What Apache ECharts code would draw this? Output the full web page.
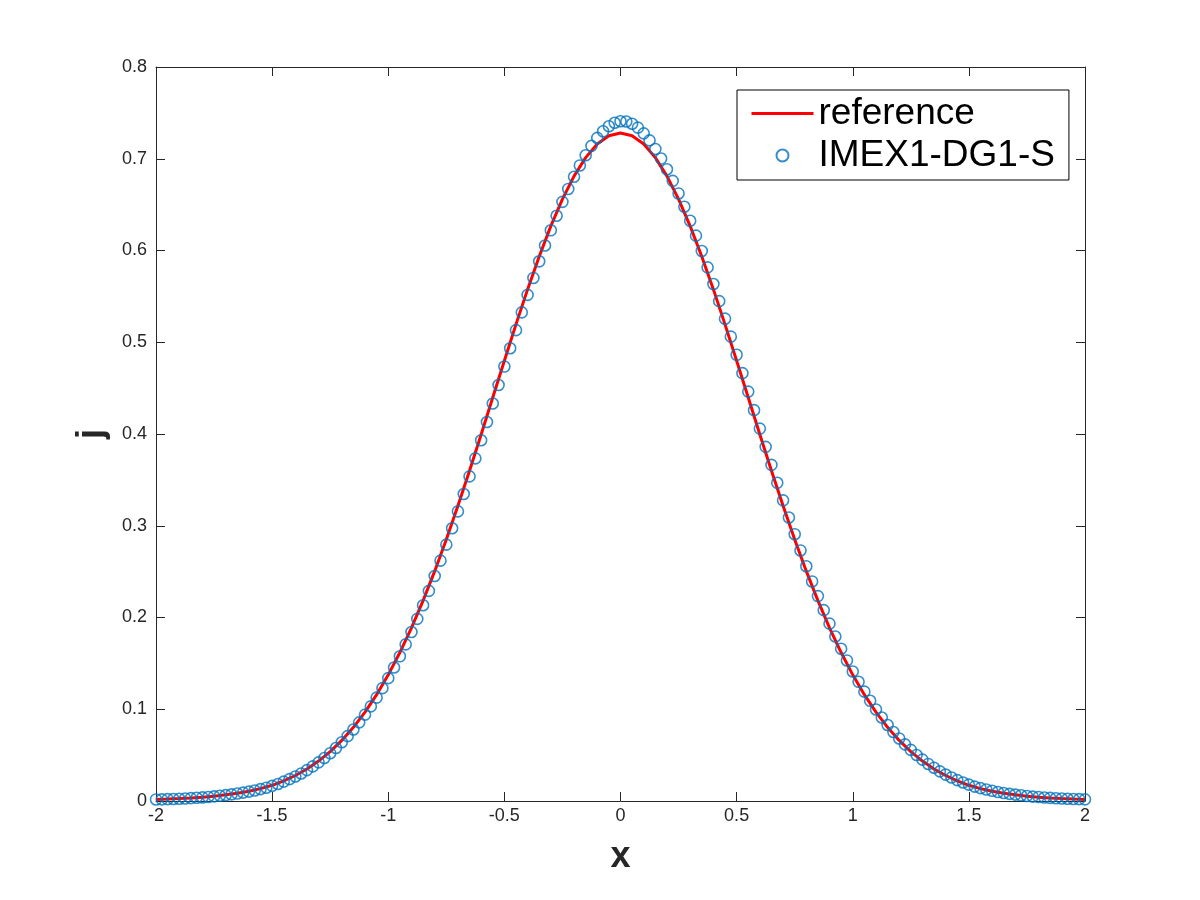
<!DOCTYPE html>
<html>
<head>
<meta charset="utf-8">
<title>j vs x</title>
<script src="https://cdn.jsdelivr.net/npm/echarts@6/dist/echarts.min.js"></script>
<style>
  html, body { margin: 0; padding: 0; background: #fff; }
  #chart { width: 1200px; height: 900px; }
</style>
</head>
<body>
<div id="chart"></div>
<script>
// reference solution, sampled every 0.05
const refX = [
  -2, -1.95, -1.9, -1.85, -1.8, -1.75, -1.7, -1.65, -1.6, -1.55,
  -1.5, -1.45, -1.4, -1.35, -1.3, -1.25, -1.2, -1.15, -1.1, -1.05,
  -1, -0.95, -0.9, -0.85, -0.8, -0.75, -0.7, -0.65, -0.6, -0.55,
  -0.5, -0.45, -0.4, -0.35, -0.3, -0.25, -0.2, -0.15, -0.1, -0.05,
  0, 0.05, 0.1, 0.15, 0.2, 0.25, 0.3, 0.35, 0.4, 0.45,
  0.5, 0.55, 0.6, 0.65, 0.7, 0.75, 0.8, 0.85, 0.9, 0.95,
  1, 1.05, 1.1, 1.15, 1.2, 1.25, 1.3, 1.35, 1.4, 1.45,
  1.5, 1.55, 1.6, 1.65, 1.7, 1.75, 1.8, 1.85, 1.9, 1.95, 2
];
const refY = [
  0.0017, 0.0021, 0.0026, 0.0032, 0.0041, 0.0052, 0.0067, 0.0084, 0.0106, 0.0135,
  0.0171, 0.0219, 0.0278, 0.0349, 0.0435, 0.0538, 0.0660, 0.0803, 0.0969, 0.1159,
  0.1375, 0.1618, 0.1887, 0.2184, 0.2505, 0.2851, 0.3217, 0.3600, 0.3995, 0.4397,
  0.4799, 0.5195, 0.5576, 0.5935, 0.6266, 0.6560, 0.6811, 0.7012, 0.7160, 0.7250,
  0.7280, 0.7250, 0.7160, 0.7012, 0.6811, 0.6560, 0.6266, 0.5935, 0.5576, 0.5195,
  0.4799, 0.4397, 0.3995, 0.3600, 0.3217, 0.2851, 0.2505, 0.2184, 0.1887, 0.1618,
  0.1375, 0.1159, 0.0969, 0.0803, 0.0660, 0.0538, 0.0435, 0.0349, 0.0278, 0.0219,
  0.0171, 0.0135, 0.0106, 0.0084, 0.0067, 0.0052, 0.0041, 0.0032, 0.0026, 0.0021, 0.0017
];

// IMEX1-DG1-S numerical solution, one point every 0.025
const numX = [
  -2, -1.975, -1.95, -1.925, -1.9, -1.875, -1.85, -1.825, -1.8, -1.775,
  -1.75, -1.725, -1.7, -1.675, -1.65, -1.625, -1.6, -1.575, -1.55, -1.525,
  -1.5, -1.475, -1.45, -1.425, -1.4, -1.375, -1.35, -1.325, -1.3, -1.275,
  -1.25, -1.225, -1.2, -1.175, -1.15, -1.125, -1.1, -1.075, -1.05, -1.025,
  -1, -0.975, -0.95, -0.925, -0.9, -0.875, -0.85, -0.825, -0.8, -0.775,
  -0.75, -0.725, -0.7, -0.675, -0.65, -0.625, -0.6, -0.575, -0.55, -0.525,
  -0.5, -0.475, -0.45, -0.425, -0.4, -0.375, -0.35, -0.325, -0.3, -0.275,
  -0.25, -0.225, -0.2, -0.175, -0.15, -0.125, -0.1, -0.075, -0.05, -0.025,
  0, 0.025, 0.05, 0.075, 0.1, 0.125, 0.15, 0.175, 0.2, 0.225,
  0.25, 0.275, 0.3, 0.325, 0.35, 0.375, 0.4, 0.425, 0.45, 0.475,
  0.5, 0.525, 0.55, 0.575, 0.6, 0.625, 0.65, 0.675, 0.7, 0.725,
  0.75, 0.775, 0.8, 0.825, 0.85, 0.875, 0.9, 0.925, 0.95, 0.975,
  1, 1.025, 1.05, 1.075, 1.1, 1.125, 1.15, 1.175, 1.2, 1.225,
  1.25, 1.275, 1.3, 1.325, 1.35, 1.375, 1.4, 1.425, 1.45, 1.475,
  1.5, 1.525, 1.55, 1.575, 1.6, 1.625, 1.65, 1.675, 1.7, 1.725,
  1.75, 1.775, 1.8, 1.825, 1.85, 1.875, 1.9, 1.925, 1.95, 1.975, 2
];
const numY = [
  0.0017, 0.0018, 0.0020, 0.0022, 0.0025, 0.0028, 0.0031, 0.0035, 0.0039, 0.0044,
  0.0050, 0.0057, 0.0064, 0.0072, 0.0081, 0.0091, 0.0102, 0.0115, 0.0129, 0.0145,
  0.0165, 0.0186, 0.0211, 0.0238, 0.0267, 0.0300, 0.0337, 0.0377, 0.0421, 0.0469,
  0.0521, 0.0578, 0.0640, 0.0707, 0.0779, 0.0857, 0.0941, 0.1031, 0.1127, 0.1230,
  0.1339, 0.1455, 0.1577, 0.1707, 0.1842, 0.1985, 0.2134, 0.2290, 0.2452, 0.2620,
  0.2794, 0.2973, 0.3157, 0.3346, 0.3538, 0.3734, 0.3932, 0.4131, 0.4332, 0.4534,
  0.4735, 0.4935, 0.5132, 0.5326, 0.5516, 0.5701, 0.5882, 0.6055, 0.6220, 0.6379,
  0.6530, 0.6671, 0.6804, 0.6927, 0.7038, 0.7140, 0.7227, 0.7299, 0.7354, 0.7392,
  0.7409, 0.7406, 0.7382, 0.7339, 0.7277, 0.7200, 0.7107, 0.7002, 0.6885, 0.6759,
  0.6622, 0.6477, 0.6324, 0.6162, 0.5994, 0.5816, 0.5635, 0.5448, 0.5257, 0.5061,
  0.4863, 0.4663, 0.4462, 0.4260, 0.4059, 0.3860, 0.3663, 0.3468, 0.3277, 0.3090,
  0.2908, 0.2731, 0.2559, 0.2393, 0.2233, 0.2080, 0.1933, 0.1793, 0.1659, 0.1532,
  0.1412, 0.1299, 0.1192, 0.1092, 0.0998, 0.0910, 0.0828, 0.0752, 0.0682, 0.0617,
  0.0557, 0.0501, 0.0451, 0.0404, 0.0362, 0.0323, 0.0288, 0.0256, 0.0228, 0.0202,
  0.0178, 0.0157, 0.0140, 0.0125, 0.0111, 0.0098, 0.0087, 0.0078, 0.0070, 0.0062,
  0.0054, 0.0048, 0.0043, 0.0038, 0.0034, 0.0030, 0.0027, 0.0024, 0.0022, 0.0020, 0.0018
];

const seriesNames = ['reference', 'IMEX1-DG1-S'];

const axisColor = '#262626';
const fontFamily = '"Liberation Sans", Arial, Helvetica, sans-serif';

const chart = echarts.init(document.getElementById('chart'));

// shared look of the four box axes (ticks point inward like matlab)
function boxAxis(extra) {
  return Object.assign({
    type: 'value',
    axisLine: { show: true, onZero: false, lineStyle: { color: axisColor, width: 1 } },
    axisTick: { show: true, inside: true, length: 9, lineStyle: { color: axisColor, width: 1 } },
    splitLine: { show: false },
    axisLabel: { show: false }
  }, extra);
}

const xRange = { min: -2, max: 2, interval: 0.5 };
const yRange = { min: 0, max: 0.8, interval: 0.1 };

const option = {
  backgroundColor: '#fff',
  animation: false,
  textStyle: { fontFamily: fontFamily },
  grid: { left: 156, right: 115, top: 67, bottom: 99, containLabel: false },
  legend: {
    orient: 'vertical',
    left: 737,
    top: 90,
    padding: [5, 14, 6, 13],
    itemGap: 5,
    itemWidth: 62,
    itemHeight: 12,
    borderColor: '#000',
    borderWidth: 1,
    backgroundColor: '#fff',
    textStyle: { fontSize: 37, lineHeight: 36, color: '#000', fontFamily: fontFamily },
    data: [
      // line entry: no marker in the middle of the sample line
      {
        name: seriesNames[0],
        itemStyle: { color: 'rgba(0,0,0,0)', borderWidth: 0 },
        lineStyle: { color: '#ff0000', width: 3 }
      },
      { name: seriesNames[1] }
    ]
  },
  xAxis: [
    boxAxis(Object.assign({
      position: 'bottom',
      name: 'x',
      nameLocation: 'middle',
      nameGap: 38,
      nameTextStyle: { fontSize: 36, fontWeight: 'bold', color: axisColor, fontFamily: fontFamily },
      axisLabel: { show: true, margin: 6, fontSize: 18, color: axisColor, fontFamily: fontFamily }
    }, xRange)),
    boxAxis(Object.assign({ position: 'top' }, xRange))
  ],
  yAxis: [
    boxAxis(Object.assign({
      position: 'left',
      name: 'j',
      nameLocation: 'middle',
      nameRotate: 90,
      nameGap: 46,
      nameTextStyle: { fontSize: 36, fontWeight: 'bold', color: axisColor, fontFamily: fontFamily },
      axisLabel: { show: true, margin: 9, fontSize: 18, color: axisColor, fontFamily: fontFamily }
    }, yRange)),
    boxAxis(Object.assign({ position: 'right' }, yRange))
  ],
  series: [
    {
      name: seriesNames[0],
      type: 'line',
      xAxisIndex: 0,
      yAxisIndex: 0,
      data: refX.map((x, i) => [x, refY[i]]),
      symbol: 'none',
      smooth: false,
      lineStyle: { color: '#ff0000', width: 3 },
      itemStyle: { color: '#ff0000' },
      z: 2
    },
    {
      name: seriesNames[1],
      type: 'scatter',
      xAxisIndex: 0,
      yAxisIndex: 0,
      data: numX.map((x, i) => [x, numY[i]]),
      symbol: 'circle',
      symbolSize: 11,
      itemStyle: { color: 'rgba(0,0,0,0)', borderColor: '#0072bd', borderWidth: 1.6 },
      z: 3
    }
  ]
};

chart.setOption(option);
</script>
</body>
</html>
